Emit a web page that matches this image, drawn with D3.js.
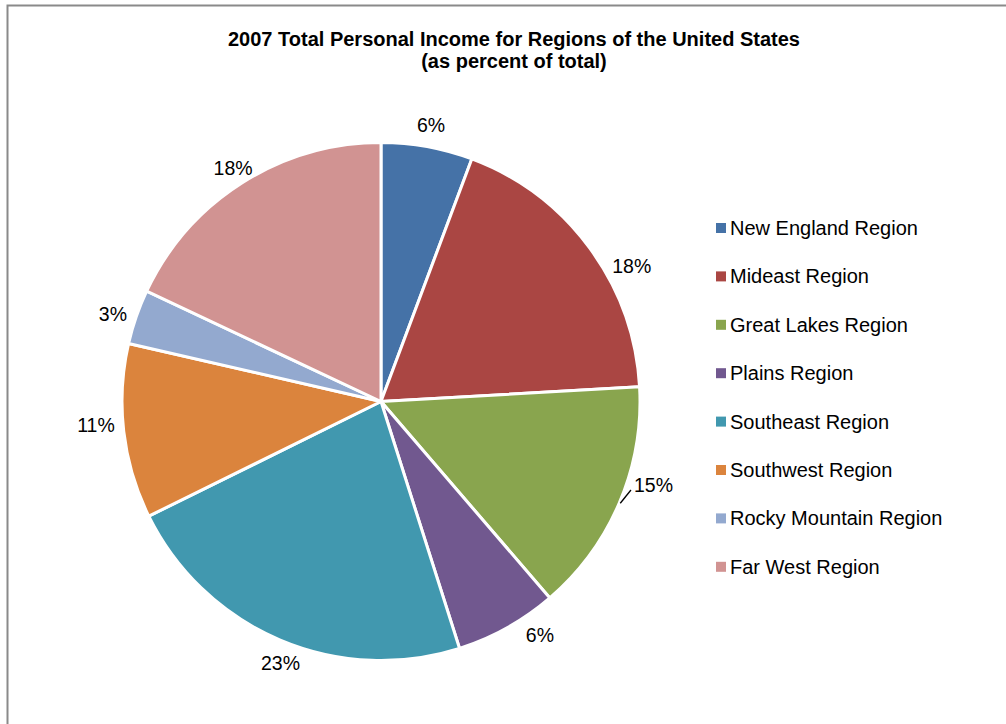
<!DOCTYPE html>
<html>
<head>
<meta charset="utf-8">
<script src="https://cdn.jsdelivr.net/npm/d3@7/dist/d3.min.js"></script>
<style>
  html, body { margin: 0; padding: 0; background: #fff; }
  svg { display: block; font-family: Arial, "Liberation Sans", sans-serif; }
</style>
</head>
<body>
<svg id="chart" width="1006" height="724"></svg>
<script>
const titleLines = ["2007 Total Personal Income for Regions of the United States", "(as percent of total)"];
const regions = ["New England Region", "Mideast Region", "Great Lakes Region", "Plains Region",
                 "Southeast Region", "Southwest Region", "Rocky Mountain Region", "Far West Region"];
const shares = [5.7, 18.4, 14.6, 6.4, 22.6, 10.9, 3.4, 18.0];
const colors = ["#4572A7", "#AA4643", "#89A54E", "#71588F", "#4198AF", "#DB843D", "#93A9CF", "#D19392"];
// label placement tweaks (degrees nudge, radius) mimicking Excel's label layout
const labelNudgeDeg = [0, 8, -6, -5, -2, 2, -1, 0];
const labelRadius = [281, 285, 285, 283, 280, 286, 282, 276];
const leaderFor = [false, false, true, false, false, false, false, false];

const svg = d3.select("#chart");

// frame
svg.append("rect").attr("x", 7.5).attr("y", 5.5).attr("width", 1010).attr("height", 740)
  .attr("fill", "#fff").attr("stroke", "#8a8a8a").attr("stroke-width", 2);

// title
const title = svg.append("text").attr("text-anchor", "middle").attr("font-weight", "bold")
  .attr("font-size", 20).attr("fill", "#000");
titleLines.forEach((t, i) => {
  title.append("tspan").attr("x", 514).attr("y", 46 + i * 22).text(t);
});

const cx = 381, cy = 401.5, r = 259;
const total = d3.sum(shares);
const data = regions.map((name, i) => ({ name, value: shares[i], color: colors[i], i }));

const pie = d3.pie().sort(null).value(d => d.value);
const arcs = pie(data);
const arc = d3.arc().innerRadius(0).outerRadius(r);

const g = svg.append("g").attr("transform", `translate(${cx},${cy})`);
g.selectAll("path.slice").data(arcs).join("path")
  .attr("class", "slice")
  .attr("d", arc)
  .attr("fill", d => d.data.color)
  .attr("stroke", "#fff")
  .attr("stroke-width", 3)
  .attr("stroke-linejoin", "round");

// labels
const fmt = v => Math.round(v / total * 100) + "%";
arcs.forEach(a => {
  const i = a.data.i;
  const mid = (a.startAngle + a.endAngle) / 2;
  const ang = mid + labelNudgeDeg[i] * Math.PI / 180;
  const R = labelRadius[i];
  const lx = R * Math.sin(ang), ly = -R * Math.cos(ang);
  const t = g.append("text")
    .attr("x", lx).attr("y", ly).attr("dy", "0.35em")
    .attr("text-anchor", "middle").attr("font-size", 19.5).attr("fill", "#000")
    .text(fmt(a.data.value));
  if (leaderFor[i]) {
    const tw = t.node().getComputedTextLength();
    const sx = (r + 1) * Math.sin(mid), sy = -(r + 1) * Math.cos(mid);
    g.append("line")
      .attr("x1", sx).attr("y1", sy)
      .attr("x2", lx - tw / 2 - 3).attr("y2", ly + 5)
      .attr("stroke", "#000").attr("stroke-width", 1.3);
  }
});

// legend
const legend = svg.append("g").attr("transform", "translate(716,228)");
const rowH = 48.4;
const items = legend.selectAll("g").data(data).join("g")
  .attr("transform", (d, i) => `translate(0,${i * rowH})`);
items.append("rect").attr("x", 0).attr("y", -5).attr("width", 10).attr("height", 10)
  .attr("fill", d => d.color);
items.append("text").attr("x", 14).attr("y", 0).attr("dy", "0.35em")
  .attr("font-size", 20).attr("fill", "#000").text(d => d.name);
</script>
</body>
</html>
